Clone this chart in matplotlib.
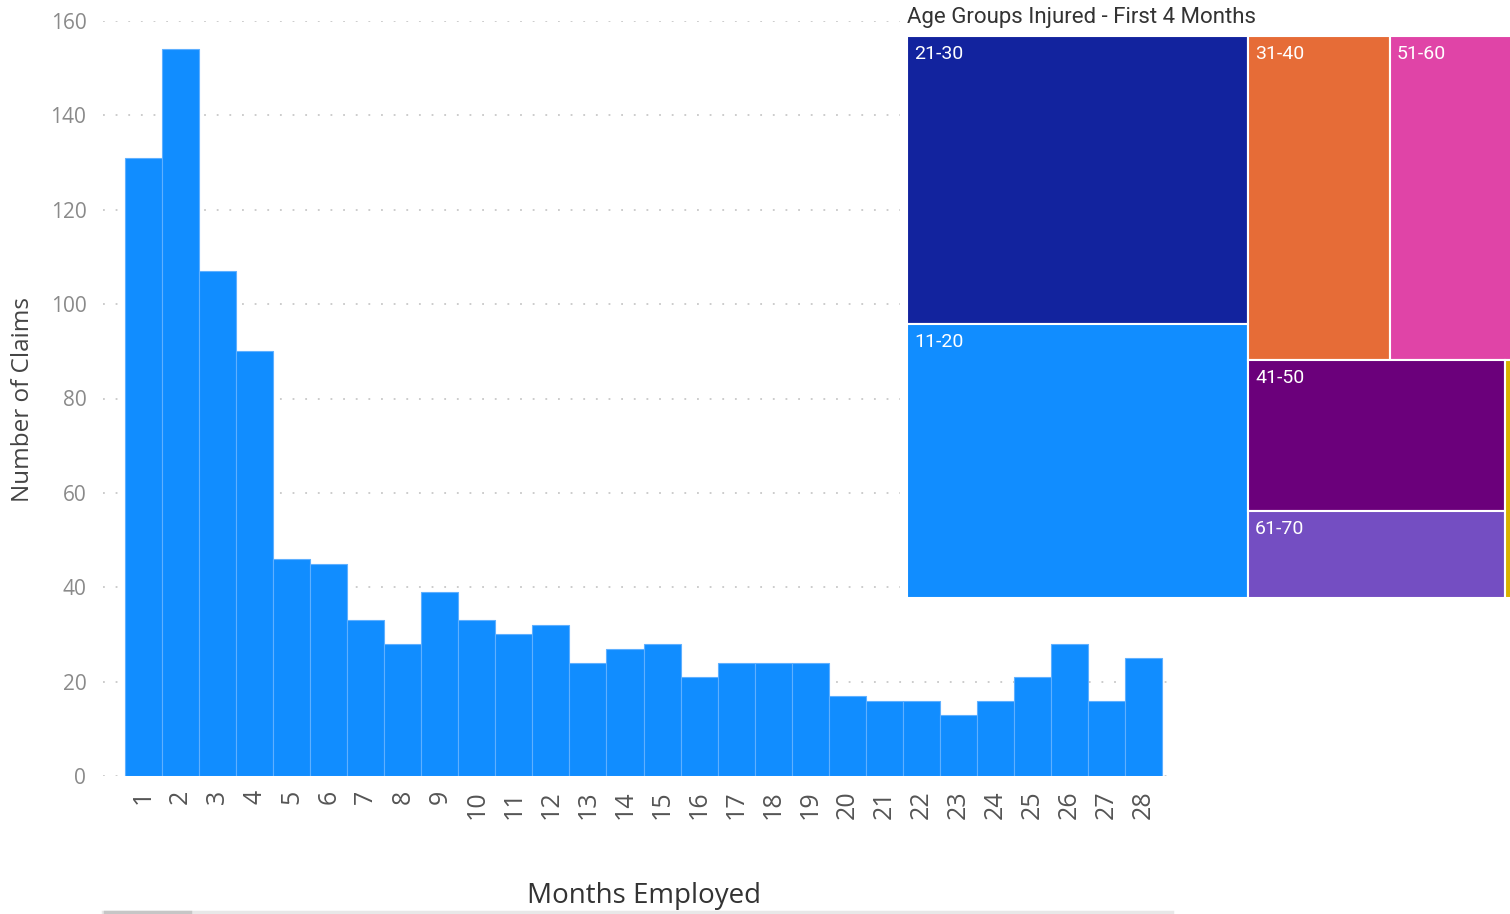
import matplotlib
matplotlib.use("Agg")
import matplotlib.pyplot as plt
from matplotlib.patches import Rectangle
from matplotlib.lines import Line2D

# Bar chart data: claims per month employed
months = list(range(1, 29))
claims = [131, 154, 107, 90, 46, 45, 33, 28, 39, 33, 30, 32, 24, 27,
          28, 21, 24, 24, 24, 17, 16, 16, 13, 16, 21, 28, 16, 25]
y_ticks = [0, 20, 40, 60, 80, 100, 120, 140, 160]

# Treemap data: age groups injured in the first 4 months
age_groups = ['11-20', '21-30', '31-40', '41-50', '51-60', '61-70', '71-80']
age_claims = [130, 137, 64, 54, 60, 31, 6]
age_colors = ['#118DFF', '#12239E', '#E66C37', '#6B007B', '#E044A7', '#744EC2', '#D9B300']

W, H = 1510, 914


def squarify(values, x0, y0, x1, y1, ratio=(1 + 5 ** 0.5) / 2):
    """Squarified treemap layout (same rules as d3.treemapSquarify)"""
    rects = []
    total = float(sum(values))
    n = len(values)
    i0 = 0
    while i0 < n:
        dx, dy = x1 - x0, y1 - y0
        s = values[i0]
        vmin = vmax = s
        alpha = max(dy / dx, dx / dy) / (total * ratio)
        beta = s * s * alpha
        best = max(vmax / beta, beta / vmin)
        i1 = i0 + 1
        # keep adding nodes while the aspect ratio improves
        while i1 < n:
            v = values[i1]
            s2 = s + v
            beta = s2 * s2 * alpha
            new = max(max(vmax, v) / beta, beta / min(vmin, v))
            if new > best:
                break
            s, vmin, vmax, best = s2, min(vmin, v), max(vmax, v), new
            i1 += 1
        row = values[i0:i1]
        if dx < dy:
            # row across the top
            h = dy * s / total if i1 < n else dy
            xx = x0
            for v in row:
                w = dx * v / s
                rects.append((xx, y0, w, h))
                xx += w
            y0 += h
        else:
            # column down the left
            w = dx * s / total if i1 < n else dx
            yy = y0
            for v in row:
                h = dy * v / s
                rects.append((x0, yy, w, h))
                yy += h
            x0 += w
        total -= s
        i0 = i1
    return rects


fig = plt.figure(figsize=(W / 100, H / 100), dpi=100)
fig.patch.set_facecolor('white')

# ---- bar chart ----
ax = fig.add_axes([103 / W, (H - 776) / H, (1172 - 103) / W, 755 / H])
ax.bar(months, claims, width=1.0, color='#118DFF', edgecolor='#5FB0FF',
       linewidth=0.8, zorder=3)
ax.set_xlim(-0.095, 28.77)
ax.set_ylim(0, 160)
ax.set_yticks(y_ticks)
ax.set_xticks(months)
ax.set_xticklabels([str(m) for m in months], rotation=90, fontsize=18,
                   color='#555555', family='Open Sans')
ax.set_yticklabels([str(t) for t in y_ticks], fontsize=15, color='#8A8A8A',
                   family='Open Sans')
ax.tick_params(axis='both', length=0)
ax.tick_params(axis='y', pad=12)
ax.tick_params(axis='x', pad=10)
ax.grid(axis='y', color='#C8C8C8', linestyle=(0, (1, 6)), linewidth=1.3, zorder=0)
for sp in ax.spines.values():
    sp.set_visible(False)

fig.text(23 / W, 1 - 399 / H, 'Number of Claims', rotation=90, ha='center',
         va='center', fontsize=17.5, color='#444444', family='Open Sans')
fig.text(644 / W, 1 - 896 / H, 'Months Employed', ha='center', va='center',
         fontsize=20, color='#333333', family='Open Sans')

# scrollbar under the chart
fig.add_artist(Line2D([103 / W, 1172 / W], [1 - 912 / H] * 2, color='#E8E8E8', lw=2.5))
fig.add_artist(Line2D([105 / W, 190 / W], [1 - 912 / H] * 2, color='#C6C6C6', lw=2.5))

# ---- treemap ----
tx0, tx1, ty1 = 900, 1523, 602
tax = fig.add_axes([tx0 / W, (H - ty1) / H, (tx1 - tx0) / W, ty1 / H], zorder=5)
tax.set_facecolor('white')
tax.set_xlim(0, tx1 - tx0)
tax.set_ylim(ty1, 0)
tax.axis('off')
tax.add_patch(Rectangle((0, 0), tx1 - tx0, ty1, facecolor='white', edgecolor='none'))

order = sorted(range(len(age_claims)), key=lambda i: -age_claims[i])
vals = [age_claims[i] for i in order]
rects = squarify(vals, 7, 36, tx1 - tx0, 598)
for i, (x, y, w, h) in zip(order, rects):
    tax.add_patch(Rectangle((x, y), w, h, facecolor=age_colors[i],
                            edgecolor='white', linewidth=1.5))
    if w > 45:
        tax.text(x + 7, y + 18, age_groups[i], color='white', fontsize=14,
                 va='center', ha='left', family='Roboto')

tax.text(7, 17, 'Age Groups Injured - First 4 Months', fontsize=16,
         color='#333333', va='center', ha='left', family='Roboto')

fig.savefig('out.png', dpi=100)
